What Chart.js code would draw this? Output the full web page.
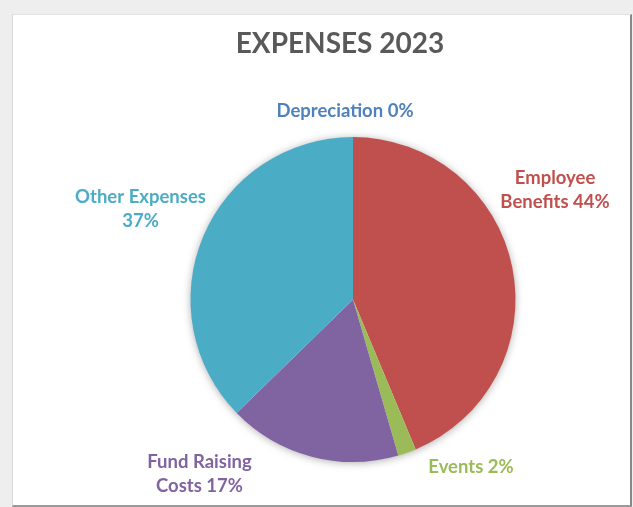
<!DOCTYPE html>
<html>
<head>
<meta charset="utf-8">
<script src="https://cdn.jsdelivr.net/npm/chart.js@4/dist/chart.umd.min.js"></script>
<style>
    html, body { margin: 0; padding: 0; }
    body { width: 633px; height: 507px; background: #eeeeee; position: relative; overflow: hidden; }
    #panel {
        position: absolute; left: 12px; top: 14px; width: 617px; height: 490px;
        background: #ffffff;
        border-top: 1px solid #e2e2e2; border-left: 1px solid #d8d8d8;
        border-right: 2px solid #8a8a8a; border-bottom: 2px solid #9a9a9a;
    }
    #wrap { position: absolute; left: 0; top: 0; width: 633px; height: 507px; }
</style>
</head>
<body>
<div id="panel"></div>
<div id="wrap"><canvas id="pieChart" width="633" height="507"></canvas></div>
<script>
const categories = ['Depreciation', 'Employee Benefits', 'Events', 'Fund Raising Costs', 'Other Expenses'];
const expenseValues = [0, 43.7, 1.8, 17.2, 37.3];
const sliceColors = ['#4F81BD', '#C0504D', '#9BBB59', '#8064A2', '#4BACC6'];

// label lines; offsets are (centre x, first baseline) relative to the pie centre
const labelLines = [
    ['Depreciation {p}'],
    ['Employee', 'Benefits {p}'],
    ['Events {p}'],
    ['Fund Raising', 'Costs {p}'],
    ['Other Expenses', '{p}']
];
const labelOffsets = [[-8, -183], [202, -116], [118, 173.5], [-153.5, 168.5], [-212.5, -96.5]];

const total = expenseValues.reduce((a, b) => a + b, 0);

// soft shadow under the whole pie, like the office chart
const pieShadow = {
    id: 'pieShadow',
    beforeDatasetsDraw(chart) {
        const arc = chart.getDatasetMeta(0).data[0];
        const ctx = chart.ctx;
        ctx.save();
        ctx.shadowColor = 'rgba(0,0,0,0.35)';
        ctx.shadowBlur = 9;
        ctx.shadowOffsetY = 1;
        ctx.fillStyle = '#ffffff';
        ctx.beginPath();
        ctx.arc(arc.x, arc.y, arc.outerRadius - 0.5, 0, Math.PI * 2);
        ctx.fill();
        ctx.restore();
    }
};

const textLabels = {
    id: 'textLabels',
    afterDraw(chart) {
        const ctx = chart.ctx;
        const arc = chart.getDatasetMeta(0).data[0];
        ctx.save();
        ctx.textAlign = 'center';
        ctx.textBaseline = 'alphabetic';

        ctx.fillStyle = '#595959';
        ctx.font = 'bold 28px Lato';
        ctx.fillText('EXPENSES 2023', 340, 53);

        ctx.font = 'bold 18.5px Lato';
        const lineH = 24;
        expenseValues.forEach((v, i) => {
            const pct = Math.round(v / total * 100) + '%';
            const cx = arc.x + labelOffsets[i][0];
            const by = arc.y + labelOffsets[i][1];
            ctx.fillStyle = sliceColors[i];
            labelLines[i].forEach((ln, k) => {
                ctx.fillText(ln.replace('{p}', pct), cx, by + k * lineH);
            });
        });
        ctx.restore();
    }
};

const ctx = document.getElementById('pieChart').getContext('2d');
const pieChart = new Chart(ctx, {
    type: 'pie',
    data: {
        labels: categories,
        datasets: [{
            data: expenseValues,
            backgroundColor: sliceColors,
            borderWidth: 0
        }]
    },
    options: {
        responsive: false,
        animation: false,
        layout: {
            padding: { left: 190, right: 117, top: 137, bottom: 45 }
        },
        plugins: {
            legend: { display: false },
            title: { display: false },
            tooltip: { enabled: false }
        }
    },
    plugins: [pieShadow, textLabels]
});
</script>
</body>
</html>
